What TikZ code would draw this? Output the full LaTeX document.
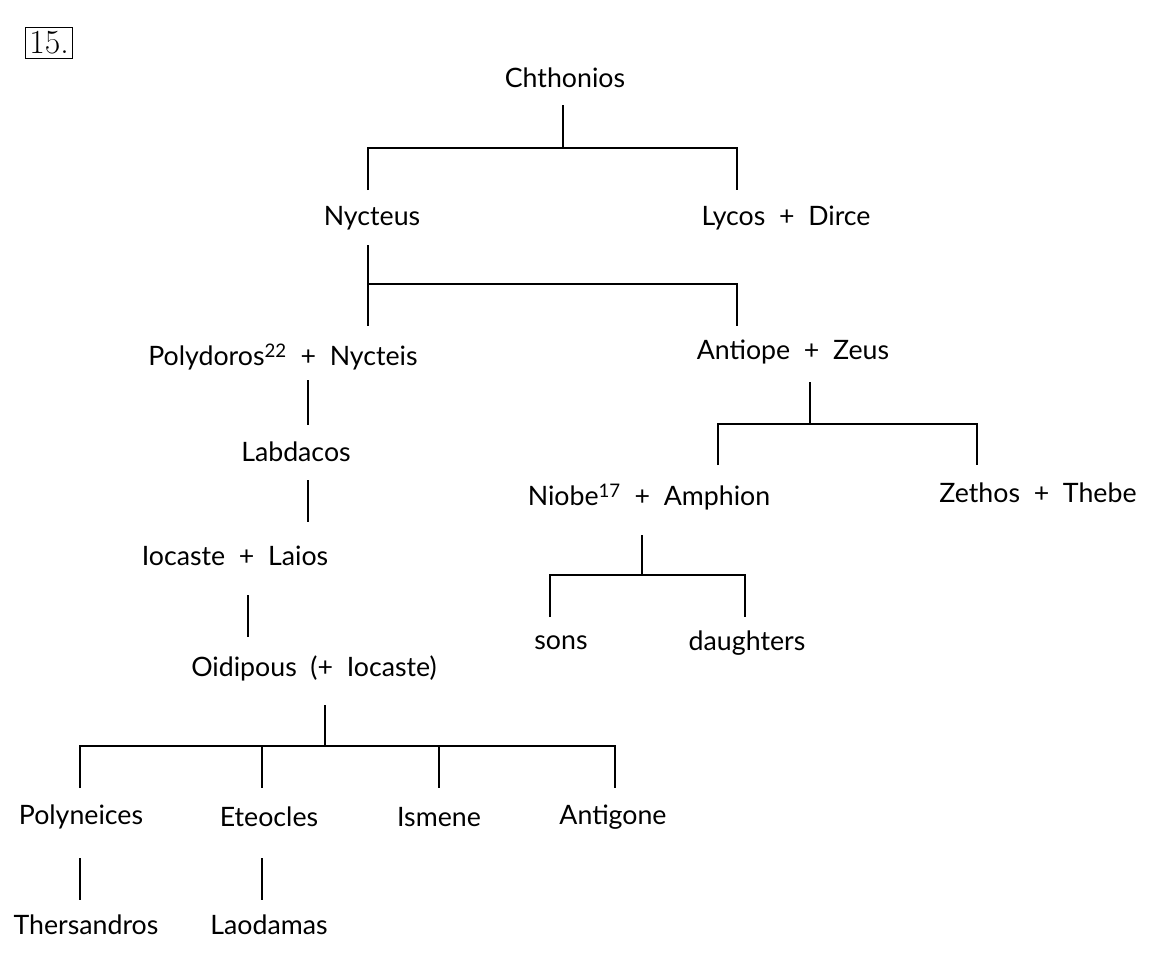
\documentclass[tikz,border=0pt]{standalone}
\usepackage{fontspec}
\setmainfont{Lato}
\usetikzlibrary{positioning}
\begin{document}
\begin{tikzpicture}[x=0.025cm,y=-0.025cm,
  person/.style={inner sep=0pt,font=\fontsize{19}{22}\selectfont},
  link/.style={line width=0.8pt}]
\useasboundingbox (0,0) rectangle (1160,954);
\node[draw,line width=0.8pt,inner sep=3pt,font=\fontsize{24}{26}\rmfamily\fontspec{Latin Modern Roman}] (num) at (49,43) {15.};
% generations
\node[person] (chth) at (565,78) {Chthonios};
\node[person] (nyct) at (372,218) {Nycteus};
\node[person] (lyc) at (786,218) {Lycos\ \ +\ \ Dirce};
\node[person] (poly) at (283,357) {Polydoros\textsuperscript{22}\ \ +\ \ Nycteis};
\node[person] (anti) at (793,352) {Antiope\ \ +\ \ Zeus};
\node[person] (labd) at (296,452) {Labdacos};
\node[person] (niob) at (649,497) {Niobe\textsuperscript{17}\ \ +\ \ Amphion};
\node[person] (zeth) at (1038,493) {Zethos\ \ +\ \ Thebe};
\node[person] (ioca) at (235,556) {Iocaste\ \ +\ \ Laios};
\node[person] (sons) at (561,643) {sons};
\node[person] (daug) at (747,643) {daughters};
\node[person] (oidi) at (314,668) {Oidipous\ \ (+\ \ Iocaste)};
\node[person] (pnc) at (81,817) {Polyneices};
\node[person] (ete) at (269,817) {Eteocles};
\node[person] (ism) at (439,817) {Ismene};
\node[person] (antg) at (613,817) {Antigone};
\node[person] (ther) at (86,925) {Thersandros};
\node[person] (laod) at (269,925) {Laodamas};
% bars
\draw[link] (563,105) -- (563,148) (368,190) -- (368,148) -- (737,148) -- (737,190);
\draw[link] (368,245) -- (368,326) (368,284) -- (737,284) -- (737,326);
\draw[link] (308,380) -- (308,425) (308,480) -- (308,522);
\draw[link] (248,595) -- (248,637);
\draw[link] (325,705) -- (325,746) (80,788) -- (80,746) -- (615,746) -- (615,788)
  (262,746) -- (262,788) (439,746) -- (439,788);
\draw[link] (80,858) -- (80,900) (262,858) -- (262,900);
\draw[link] (810,382) -- (810,424) (718,465) -- (718,424) -- (977,424) -- (977,465);
\draw[link] (642,535) -- (642,575) (550,617) -- (550,575) -- (745,575) -- (745,617);
\end{tikzpicture}
\end{document}
